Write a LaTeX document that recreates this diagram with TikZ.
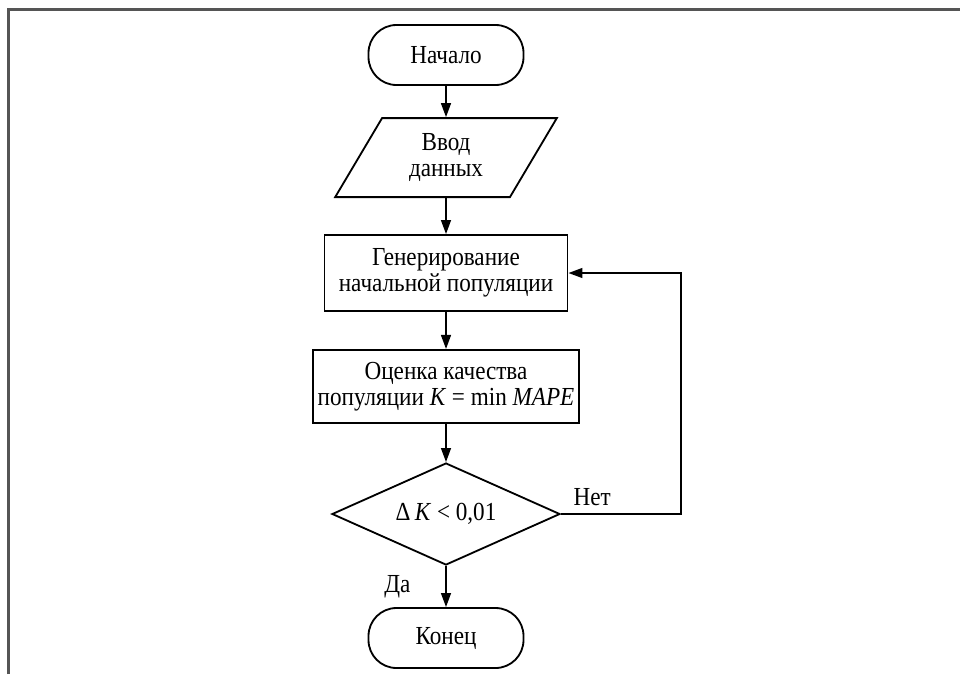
\documentclass[tikz,border=0pt]{standalone}
\usepackage{fontspec}
\setmainfont{Liberation Serif}[FakeStretch=0.89]
\usetikzlibrary{shapes.geometric, arrows.meta}

\begin{document}
\begin{tikzpicture}[>={Triangle[length=10pt,width=7pt]}, line width=1.3pt,
        font=\fontsize{18.5}{18.5}\selectfont]
        % --- НАСТРОЙКИ ---
        \definecolor{ramka}{RGB}{85, 85, 85}     % серая рамка
        \tikzset{
            term/.style={draw, rounded corners=0.7cm, minimum width=3.875cm, minimum height=1.5cm},
            vvod/.style={draw, trapezium, trapezium left angle=62, trapezium right angle=118,
                trapezium stretches=true, minimum width=5.55cm, minimum height=1.975cm, align=center},
            blok/.style={draw, minimum height=1.9cm, align=center},
            uslovie/.style={draw, diamond, aspect=2.24, minimum width=5.7cm, minimum height=2.55cm}
        }
        \useasboundingbox (0,0) rectangle (24,-16.85);

        % Рамка
        \draw[ramka, line width=1.5pt] (0.2125,-16.85) -- (0.2125,-0.2375) -- (24,-0.2375);

        % --- БЛОКИ ---
        \node[term] (nachalo) at (11.15,-1.375) {Начало};
        \node[vvod] (vvod) at (11.15,-3.94) {Ввод\\данных};
        \node[blok, minimum width=6.075cm] (gener) at (11.15,-6.825) {Генерирование\\начальной популяции};
        \node[blok, minimum width=6.425cm, minimum height=1.825cm] (ocenka) at (11.15,-9.66)
            {Оценка качества\\популяции \textit{K} = min \textit{MAPE}};
        \node[uslovie] (uslovie) at (11.15,-12.85) {Δ\,\textit{K} < 0,01};
        \node[term] (konec) at (11.15,-15.95) {Конец};

        % --- СТРЕЛКИ ---
        \draw[->] (nachalo) -- (vvod);
        \draw[->] (vvod) -- (gener);
        \draw[->] (gener) -- (ocenka);
        \draw[->] (ocenka) -- (uslovie);
        \draw[->] (uslovie) -- node[left=0.75cm] (da) {Да} (konec);

        % Возврат к генерированию
        \draw[->] (uslovie.east) -- node[pos=0.26, above=2pt] (net) {Нет} ++(3,0) |- (gener.east);
    \end{tikzpicture}
\end{document}
